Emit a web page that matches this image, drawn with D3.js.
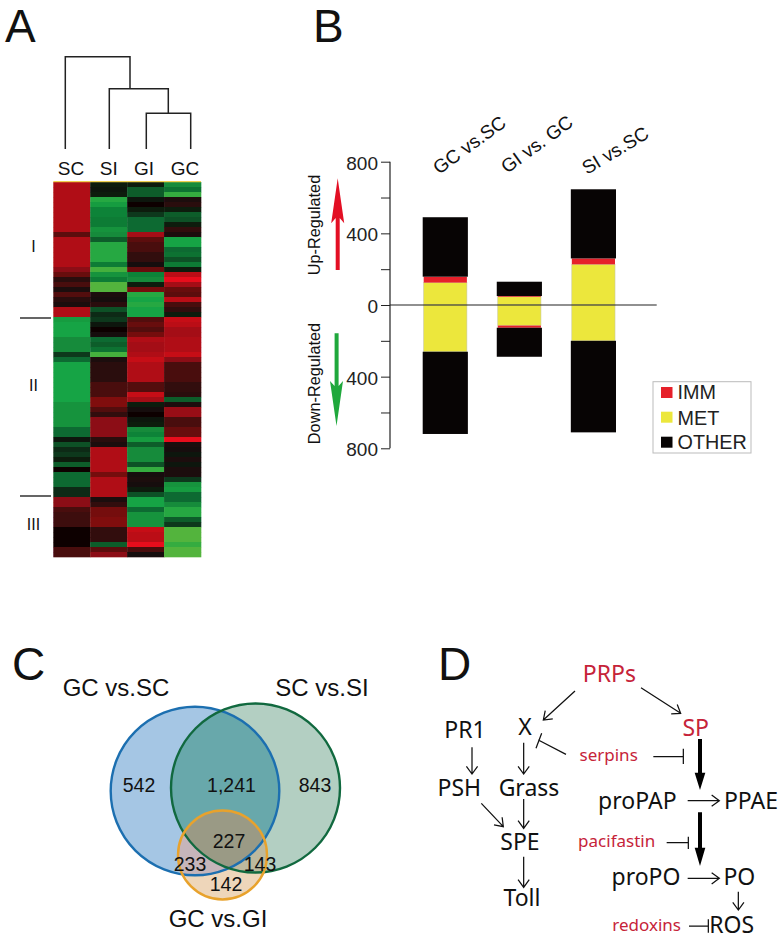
<!DOCTYPE html>
<html><head><meta charset="utf-8">
<script src="https://cdn.jsdelivr.net/npm/d3@7/dist/d3.min.js"></script>
<style>html,body{margin:0;padding:0;background:#fff}svg{display:block}text{fill:#111}</style>
</head><body><svg id="c" width="784" height="941" viewBox="0 0 784 941"></svg>
<script>
// Panel A
const heatColumns = ["SC","SI","GI","GC"];
const heatSC = [.75,.75,.75,.75,.75,.75,.75,.75,.75,.75,.4,.75,.75,.75,.75,.75,.75,.6,.45,.15,.3,.1,.35,.15,.1,.75,.75,-.7,-.75,-.75,-.75,-.6,-.6,-.6,-.2,-.4,-.75,-.75,-.75,-.75,-.75,-.75,-.75,-.75,-.65,-.65,-.65,-.65,-.65,-.4,-.4,-.05,-.3,-.15,-.2,-.1,-.35,0,-.4,-.4,-.4,-.15,-.15,.6,.6,.3,.25,.25,.25,0,0,0,0,.3,.3];
const heatSI = [-.1,-.05,-.1,-.8,-.7,-.55,-.55,-.5,-.5,-.65,-.6,-.35,-.8,-.8,-.8,-.8,-.5,-.9,-.65,-.5,-.95,-.95,.1,.05,.15,-.3,-.15,-.2,-.05,0,.05,-.4,-.35,-.45,-.9,.1,.15,.15,.15,.15,.3,.3,.3,.55,.55,.35,.2,.6,.6,.6,.6,.15,.1,.75,.75,.75,.75,.75,.5,.75,.75,.75,.75,.1,.2,.5,.5,.55,.55,.2,.2,.2,-.35,.4,.6];
const heatGI = [-.1,-.35,-.35,-.05,0,-.1,-.2,-.4,-.4,-.4,.7,.4,.3,.3,.2,.2,.05,.45,-.55,-.6,-.1,.5,-.8,-.75,-.8,-.75,-.75,.35,.45,.35,.5,.75,.7,.7,.75,.85,.75,.75,.75,.75,.35,.35,.85,.7,-.1,.05,0,-.05,-.1,-.6,-.55,-.7,-.35,-.6,-.6,-.6,-.3,-.85,.05,.1,.05,-.1,-.3,-.75,-.75,-.4,-.65,-.65,-.65,.85,.8,.8,1,.3,.05];
const heatGC = [-.6,-.45,-.85,.1,.15,-.1,-.35,-.3,-.1,.2,.1,-.75,-.75,-.4,-.45,-.3,-.5,-.1,.8,1,.7,.45,.4,.8,.3,.2,-.1,.85,.8,.7,.7,.75,.75,.75,.85,.6,.3,.3,.3,.3,.2,.2,.15,-.35,.1,.65,.65,.3,.3,.45,.45,1,.1,.05,-.05,.1,-.05,.1,.1,-.2,-.65,-.7,-.4,-.4,-.6,-.8,-.8,-.35,-.2,-.95,-.95,-.95,-.85,-.95,-.95];
const clusterLabels = ["I","II","III"];

// Panel B
const barGroups = ["GC vs.SC","GI vs. GC","SI vs.SC"];
const upMET = [125,46,227];
const upIMM = [33,4,33];
const upOTHER = [332,80,386];
const downMET = [261,115,200];
const downIMM = [0,12,0];
const downOTHER = [459,162,511];
const barTicks = [-800,-600,-400,-200,0,200,400,600,800];
const legendNames = ["IMM","MET","OTHER"];

// Panel C
const vennTitles = ["GC vs.SC","SC vs.SI","GC vs.GI"];
const vennCounts = ["542","1,241","843","227","233","143","142"];

// Panel D
const pathwayBlack = ["PR1","X","PSH","Grass","proPAP","PPAE","SPE","proPO","PO","Toll","ROS"];
const pathwayRed = ["PRPs","SP"];
const inhibitors = ["serpins","pacifastin","redoxins"];

const svg = d3.select("#c");
const SANS = "'Liberation Sans',Arial,sans-serif", MYR = "'Noto Sans',sans-serif";
const label = (t,x,y,o={}) => svg.append("text").text(t).attr("x",x).attr("y",y)
  .attr("font-family",o.f||SANS).attr("font-size",o.s||18).attr("text-anchor",o.a||"middle")
  .style("fill",o.c||"#111").attr("transform",o.r!=null?`rotate(${o.r} ${x} ${y})`:null);

// Panel letters
[["A",5,42],["B",313,42],["C",12,680],["D",438,680]].forEach(d=>label(d[0],d[1],d[2],{s:46,a:"start"}));

const defs=svg.append("defs");
defs.append("filter").attr("id","soft").attr("x",0).attr("y",0).attr("width",1).attr("height",1)
  .append("feGaussianBlur").attr("stdDeviation","0 0.6");

// ---------- A: heat map
const hx = d3.scaleBand().domain(heatColumns).range([53.3,201]);
const hy = d3.scaleBand().domain(d3.range(heatSC.length)).range([182,557]);
const hc = d3.scaleLinear().domain([-1,-.75,-.4,0,.4,.75,1])
  .range(["#62b83a","#18a444","#0c6a30","#0a0606","#5c0a0c","#b01116","#e8101e"]);
const heatSeries = [heatSC,heatSI,heatGI,heatGC];
const heatG = svg.append("g").attr("filter","url(#soft)");
heatColumns.forEach((c,i)=>{
  heatG.append("g").selectAll("rect").data(heatSeries[i]).join("rect")
    .attr("x",hx(c)).attr("width",hx.bandwidth()+.3)
    .attr("y",(d,j)=>hy(j)).attr("height",hy.bandwidth()+.3)
    .attr("fill",d=>hc(d));
});
svg.append("line").attr("x1",53.3).attr("x2",201).attr("y1",181.6).attr("y2",181.6).attr("stroke","#efd050").attr("stroke-width",1.2);
const heatLabelX = [71,108.7,144,185];
heatColumns.forEach((c,i)=>label(c,heatLabelX[i],175,{s:19}));
// dendrogram
const den = d3.path();
[[65.3,148.3,65.3,56.7],[65.3,56.7,130,56.7],[130,56.7,130,88.7],
 [109.3,148.3,109.3,88.7],[109.3,88.7,168.3,88.7],[168.3,88.7,168.3,113.3],
 [146.3,148.3,146.3,113.3],[146.3,113.3,190.7,113.3],[190.7,113.3,190.7,148.3]]
 .forEach(s=>{den.moveTo(s[0],s[1]);den.lineTo(s[2],s[3]);});
svg.append("path").attr("d",den.toString()).attr("fill","none").attr("stroke","#222").attr("stroke-width",1.5).attr("stroke-linecap","square");
[246,385,524].forEach((y,i)=>label(clusterLabels[i],33.5,y+6,{s:16}));
[318,496].forEach(y=>svg.append("line").attr("x1",20).attr("x2",51).attr("y1",y).attr("y2",y).attr("stroke","#111").attr("stroke-width",1.3));

// ---------- B: diverging stacked bars
const by = d3.scaleLinear().domain([-800,800]).range([448.3,161.7]);
const bx = d3.scaleBand().domain(barGroups).range([422.7,616]).paddingInner(.39);
const seg = {IMM:"#e6202a",MET:"#ece73c",OTHER:"#070404"};
barGroups.forEach((g,i)=>{
  const stacks = [[upMET[i],upIMM[i],upOTHER[i],1],[downMET[i],downIMM[i],downOTHER[i],-1]];
  stacks.forEach(([m,im,o,sgn])=>{
    const rect=(a,b,n,inset)=>{ if(b===a) return;
      const y0=by(sgn*a),y1=by(sgn*b);
      svg.append("rect").attr("x",bx(g)+inset).attr("width",bx.bandwidth()-2*inset)
       .attr("y",Math.min(y0,y1)).attr("height",Math.abs(y1-y0)).attr("fill",seg[n])
       .attr("stroke",n==="MET"?"#c8c89a":"none").attr("stroke-width",n==="MET"?.6:0);
    };
    rect(0,m,"MET",1); rect(m,m+im,"IMM",1); rect(m+im,m+im+o,"OTHER",0);
  });
});
const ax = svg.append("g").attr("transform","translate(390,0)")
  .call(d3.axisLeft(by).tickValues(barTicks).tickSize(9).tickPadding(3)
    .tickFormat(d=>Math.abs(d)%400===0?Math.abs(d):""));
ax.selectAll("path").attr("stroke","#222").attr("stroke-width",1.2).attr("d","M0,161.7V448.3");
ax.selectAll("line").attr("stroke","#222").attr("stroke-width",1);
ax.selectAll("text").attr("font-family",SANS).attr("font-size",19).attr("dy","0.4em").style("fill","#222");
svg.append("line").attr("x1",390).attr("x2",656.7).attr("y1",by(0)).attr("y2",by(0)).attr("stroke","#222").attr("stroke-width",1.2);
[[439,175],[507,174],[587,175]].forEach((p,i)=>label(barGroups[i],p[0],p[1],{s:19,a:"start",r:i===2?-31:-36}));
label("Up-Regulated",319.5,225,{s:16.3,r:-90});
label("Down-Regulated",319.5,383.5,{s:16.3,r:-90});
svg.append("path").attr("fill","#e30f24")
  .attr("d","M335.7,270V218L331.2,223.3L337.7,178.3L344.2,223.3L339.7,218V270Z");
svg.append("path").attr("fill","#1fa83c")
  .attr("d","M334.6,333.3V386L330,381L336.5,426L343,381L338.6,386V333.3Z");
svg.append("rect").attr("x",653).attr("y",381.7).attr("width",98).attr("height",71.3).attr("fill","#fff").attr("stroke","#bbb").attr("stroke-width",1);
[[387,399],[411.7,425],[436.7,449]].forEach((p,i)=>{
  svg.append("rect").attr("x",661).attr("y",p[0]).attr("width",11.5).attr("height",11).attr("fill",seg[legendNames[i]]);
  label(legendNames[i],677.5,p[1],{s:19.8,a:"start",c:"#222"});
});

// ---------- C: Venn
const CB={x:195,y:791,r:84.3}, CG={x:255.5,y:788,r:84.5}, CO={x:222.5,y:855,r:44.5};
[["cb",CB],["cg",CG],["co",CO]].forEach(([id,c])=>defs.append("clipPath").attr("id",id)
  .append("circle").attr("cx",c.x).attr("cy",c.y).attr("r",c.r));
const disk=(c,fill,clips)=>{
  let parent=svg;
  clips.forEach(k=>{parent=parent.append("g").attr("clip-path",`url(#${k})`);});
  parent.append("circle").attr("cx",c.x).attr("cy",c.y).attr("r",c.r).attr("fill",fill);
};
disk(CB,"#a5c6e4",[]); disk(CG,"#b3cfc2",[]); disk(CG,"#68a8ab",["cb"]);
disk(CO,"#eed6ba",[]); disk(CO,"#c6b5ba",["cb"]); disk(CO,"#bdb99e",["cg"]); disk(CO,"#9a9a85",["cb","cg"]);
[[CB,"#1c6fb0"],[CG,"#11693f"],[CO,"#e8a22c"]].forEach(([c,s])=>svg.append("circle")
  .attr("cx",c.x).attr("cy",c.y).attr("r",c.r).attr("fill","none").attr("stroke",s).attr("stroke-width",2.4));
[[116,696],[322,696],[218,927]].forEach((p,i)=>label(vennTitles[i],p[0],p[1],{s:24}));
[[139,792],[231.5,792],[315,792],[229,848],[190,871],[260,871],[226,891]]
  .forEach((p,i)=>label(vennCounts[i],p[0],p[1],{s:19.5}));

// ---------- D: pathway
const Z=(zx,zy)=>[430+zx/3,650+zy/3];
const RED="#c62339";
[[105,265],[285,255],[88,437],[297,437],[622,478],[963,478],[270,601],[648,706],[928,706],[276,767],[905,850]]
  .forEach((p,i)=>{const q=Z(p[0],p[1]);label(pathwayBlack[i],q[0],q[1],{f:MYR,s:23});});
[[538,95],[797,258]].forEach((p,i)=>{const q=Z(p[0],p[1]);label(pathwayRed[i],q[0],q[1],{f:MYR,s:23,c:RED});});
[[536,333],[560,592],[650,842]].forEach((p,i)=>{const q=Z(p[0],p[1]);label(inhibitors[i],q[0],q[1],{f:MYR,s:17,c:RED});});
const thin=(d,w=1.25)=>svg.append("path").attr("d",d).attr("fill","none").attr("stroke","#111").attr("stroke-width",w);
const arrow=(a,b,h=9.5)=>{
  const [x0,y0]=Z(...a),[x1,y1]=Z(...b),t=Math.atan2(y1-y0,x1-x0);
  const w=Math.PI*.8;
  thin(`M${x0},${y0}L${x1},${y1}M${x1+h*Math.cos(t+w)},${y1+h*Math.sin(t+w)}L${x1},${y1}L${x1+h*Math.cos(t-w)},${y1+h*Math.sin(t-w)}`);
};
[[[435,123],[340,210]],[[633,113],[752,190]],[[126,292],[126,372]],[[281,278],[281,372]],
 [[154,460],[220,530]],[[281,447],[281,535]],[[281,620],[281,712]],[[773,452],[868,452]],
 [[773,685],[868,685]],[[925,725],[925,780]]].forEach(s=>arrow(s[0],s[1]));
const tbar=(a,b,c,d)=>{const p=[a,b,c,d].map(q=>Z(...q));thin(`M${p[0]}L${p[1]}M${p[2]}L${p[3]}`);};
tbar([408,313],[325,270],[318,295],[335,250]);
tbar([670,320],[760,320],[760,296],[760,342]);
tbar([710,578],[775,578],[775,560],[775,597]);
tbar([777,828],[835,828],[835,808],[835,848]);
const thick=(y0,yh,y1)=>{
  const x=810,w=6,hw=16,[,a]=Z(x,y0),[,b]=Z(x,yh),[,c]=Z(x,y1),[cx]=Z(x,0);
  svg.append("path").attr("fill","#000")
   .attr("d",`M${cx-w/3},${a}V${b}H${cx-hw/3}L${cx},${c}L${cx+hw/3},${b}H${cx+w/3}V${a}Z`);
};
thick(267,368,420); thick(487,593,648);
</script></body></html>
